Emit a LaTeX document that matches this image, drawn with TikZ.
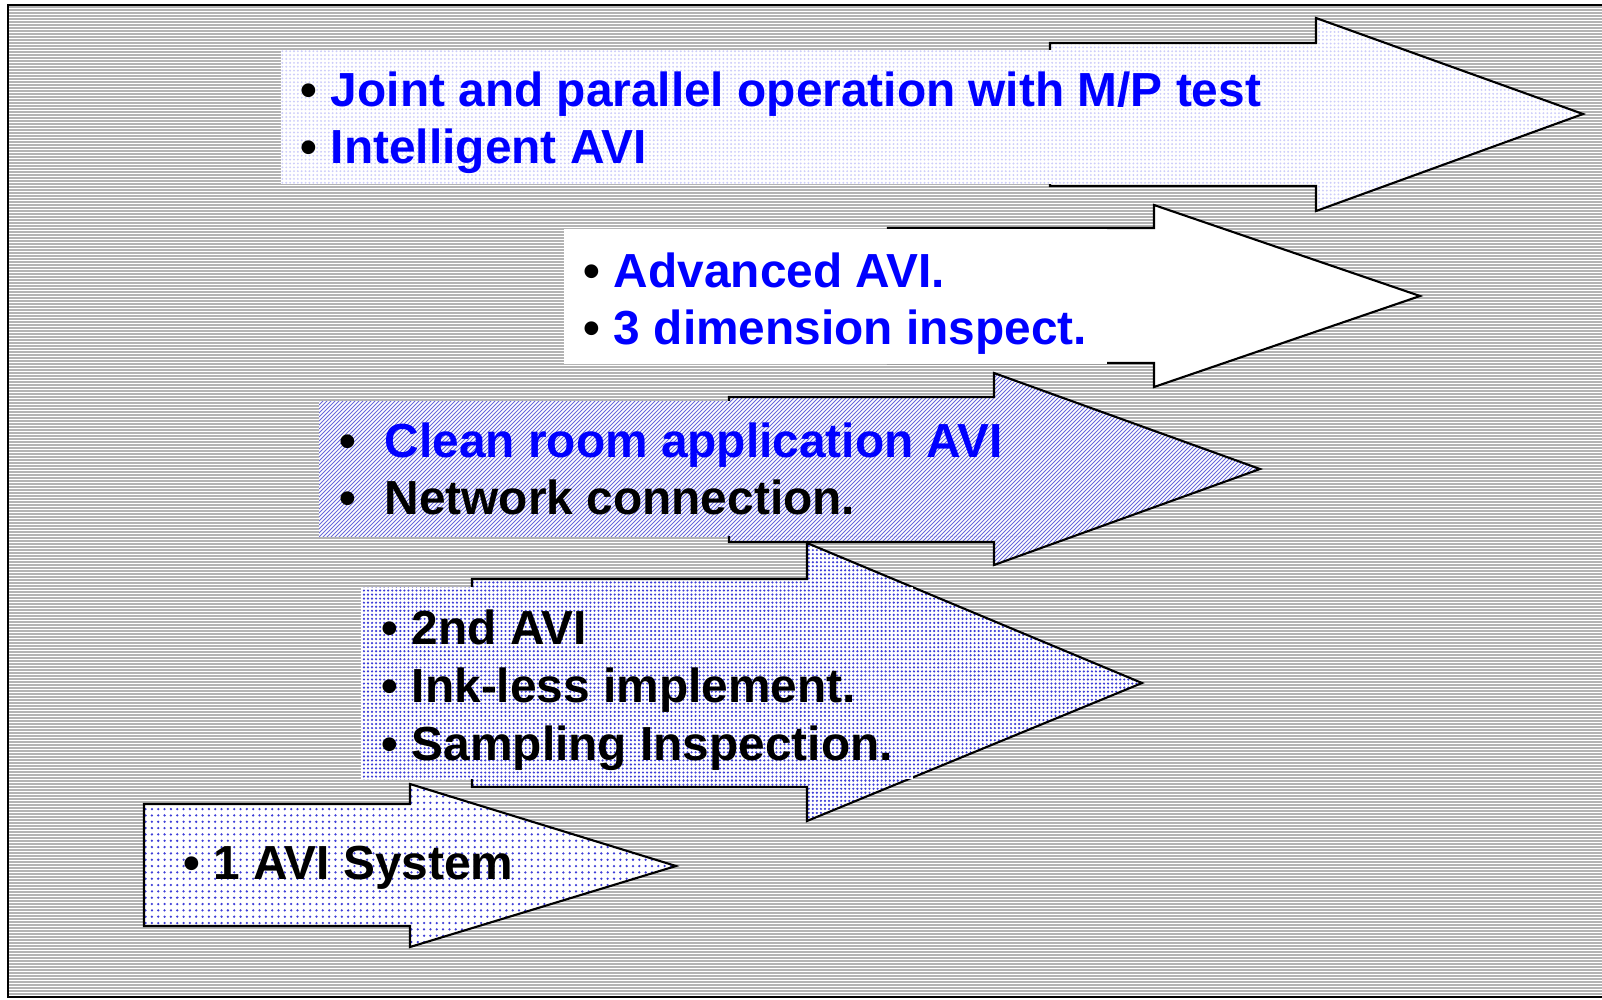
\documentclass[tikz,border=0pt]{standalone}
\usepackage{fontspec}
\setmainfont{Liberation Sans}
\usetikzlibrary{patterns.meta}
\definecolor{aviblue}{RGB}{0,0,255}
\definecolor{bggray}{RGB}{179,179,179}
\definecolor{paledot}{RGB}{205,205,250}
\definecolor{hatchblue}{RGB}{105,105,220}
\definecolor{dotblue}{RGB}{60,60,215}
\newcommand{\bul}[1][8.6pt]{\makebox[#1][l]{\textcolor{black}{\textbullet}}}

\begin{document}
\begin{tikzpicture}[
    x=0.01cm, y=-0.01cm,
    bigarrow/.style={draw=black, line width=0.6pt, line join=miter},
    fillpale/.style={preaction={fill=white}, pattern={Dots[distance=1.1pt, radius=0.3pt]}, pattern color=paledot},
    fillwhite/.style={fill=white},
    fillhatch/.style={fill=white, path picture={
        \foreach \c in {700,704,...,1840}
            \draw[hatchblue, line width=0.25pt] (\c-600,600) -- (\c-350,350);
    }},
    filldense/.style={preaction={fill=white}, pattern={Dots[distance=1.15pt, radius=0.34pt]}, pattern color=dotblue},
    fillsparse/.style={preaction={fill=white}, pattern={Dots[distance=1.8pt, radius=0.36pt]}, pattern color=dotblue},
    txtline/.style={anchor=base west, inner sep=0pt, font=\fontsize{13.6}{16.2}\selectfont\bfseries}
]
    \useasboundingbox (0,0) rectangle (1602,999);

    % Background
    \fill[bggray] (8,5) rectangle (1602,997);
    \foreach \yy in {8.5,11.5,...,995.5}
        \draw[white, line width=0.2845pt] (9,\yy) -- (1602,\yy);
    \draw[line width=0.6pt] (1602,5) -- (8,5) -- (8,997) -- (1602,997);

    % Arrow 1
    \draw[bigarrow, fillpale] (1050,43) -- (1316,43) -- (1316,18) -- (1583,114)
        -- (1316,211) -- (1316,186) -- (1050,186) -- cycle;
    \fill[fillpale] (281,50) rectangle (1284,184);
    \node[txtline] (joint) at (300,106) {\bul\textcolor{aviblue}{Joint and parallel operation with M/P test}};
    \node[txtline] (intel) at (300,163) {\bul\textcolor{aviblue}{Intelligent AVI}};

    % Arrow 2
    \draw[bigarrow, fillwhite] (888,228) -- (1154,228) -- (1154,205) -- (1420,296)
        -- (1154,387) -- (1154,363) -- (888,363) -- cycle;
    \fill[fillwhite] (564,229) rectangle (1107,364);
    \node[txtline] (adv) at (583,287) {\bul\textcolor{aviblue}{Advanced AVI.}};
    \node[txtline] (dim) at (583,344) {\bul\textcolor{aviblue}{3 dimension inspect.}};

    % Arrow 3
    \draw[bigarrow, fillhatch] (729,397) -- (994,397) -- (994,373) -- (1260,469)
        -- (994,565) -- (994,542) -- (729,542) -- cycle;
    \path[fillhatch] (319,401) rectangle (1038,536);
    \node[txtline] (clean) at (339,457) {\bul[12.8pt]\textcolor{aviblue}{Clean room application AVI}};
    \node[txtline] (net) at (339,514) {\bul[12.8pt]Network connection.};

    % Arrow 4
    \draw[bigarrow, filldense] (472,579) -- (807,579) -- (807,543) -- (1142,683)
        -- (807,821) -- (807,787) -- (472,787) -- cycle;
    \fill[filldense] (361,587) rectangle (913,779);
    \node[txtline] (second) at (381,644) {\bul 2nd AVI};
    \node[txtline] (inkless) at (381,702) {\bul Ink-less implement.};
    \node[txtline] (sampling) at (381,760) {\bul Sampling Inspection.};

    % Arrow 5
    \draw[bigarrow, fillsparse] (144,804) -- (410,804) -- (410,784) -- (676,866)
        -- (410,947) -- (410,926) -- (144,926) -- cycle;
    \fill[fillsparse] (162,822) rectangle (520,897);
    \node[txtline] (first) at (183,879) {\bul 1 AVI System};
\end{tikzpicture}
\end{document}
